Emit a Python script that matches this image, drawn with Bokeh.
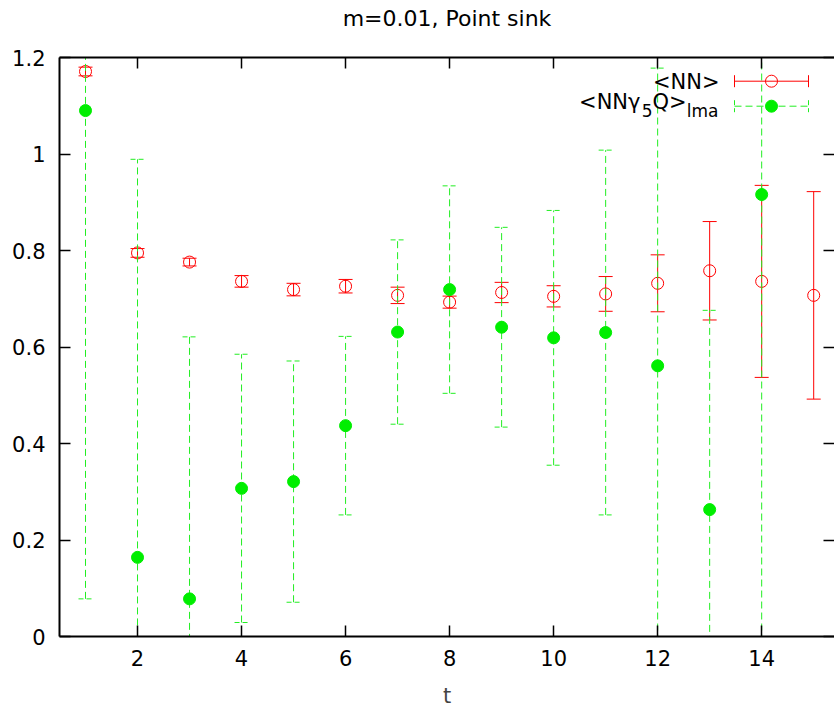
import math
from bokeh.plotting import figure
from bokeh.models import Range1d, FixedTicker, LinearAxis
from bokeh.embed import file_html
from bokeh.resources import INLINE
from bokeh.core.properties import value

# ---------------- data ----------------
title_text = "m=0.01, Point sink"
x_label = "t"

t_nn = [1, 2, 3, 4, 5, 6, 7, 8, 9, 10, 11, 12, 13, 14, 15]
nn_val = [1.171, 0.795, 0.776, 0.736, 0.719, 0.726, 0.707, 0.693, 0.713, 0.705, 0.710, 0.732, 0.758, 0.736, 0.707]
nn_err = [0.009, 0.009, 0.008, 0.012, 0.013, 0.014, 0.017, 0.0125, 0.021, 0.022, 0.036, 0.059, 0.102, 0.199, 0.215]

t_g = [1, 2, 3, 4, 5, 6, 7, 8, 9, 10, 11, 12, 13, 14]
g_val = [1.090, 0.164, 0.078, 0.307, 0.321, 0.437, 0.631, 0.719, 0.641, 0.619, 0.630, 0.561, 0.263, 0.916]
g_err = [1.012, 0.825, 0.543, 0.278, 0.250, 0.185, 0.191, 0.215, 0.207, 0.264, 0.378, 0.617, 0.413, 1.200]

x_ticks = [2, 4, 6, 8, 10, 12, 14]
x_tick_labels = ["2", "4", "6", "8", "10", "12", "14"]
y_ticks = [0, 0.2, 0.4, 0.6, 0.8, 1.0, 1.2]
y_tick_labels = ["0", "0.2", "0.4", "0.6", "0.8", "1", "1.2"]

legend_nn = "<NN>"
legend_g_parts = ["<NNγ", "5", "Q>", "lma"]

# ---------------- style / layout ----------------
FONT = "DejaVu Sans"
RED = "#ff0000"
GREEN_LINE = "#22ee22"
GREEN_DOT = "#00ee00"
DASH = "7 4"
W, H = 834, 710
LEFT, RIGHT, TOP, BOTTOM = 59, 0, 57, 74
X0, X1 = 0.5, 15.4
Y0, Y1 = 0.0, 1.2

p = figure(width=W, height=H, x_range=Range1d(X0, X1), y_range=Range1d(Y0, Y1),
           output_backend="svg", toolbar_location=None,
           min_border_left=LEFT, min_border_right=RIGHT,
           min_border_top=TOP, min_border_bottom=BOTTOM)
p.grid.visible = False
p.outline_line_color = None
p.background_fill_color = "white"
p.border_fill_color = "white"

SX = (X1 - X0) / (W - LEFT - RIGHT)
SY = (Y1 - Y0) / (H - TOP - BOTTOM)


def dx(px):
    return X0 + (px - LEFT) * SX


def dy(py):
    return Y1 - (py - TOP) * SY


def style_axis(ax, ticks, labels, show_labels=True, line=True):
    ax.ticker = FixedTicker(ticks=ticks)
    if show_labels:
        ax.major_label_overrides = {t: l for t, l in zip(ticks, labels)}
        ax.major_label_text_font = FONT
        ax.major_label_text_font_size = "21px"
        ax.major_label_text_color = "black"
    else:
        ax.major_label_overrides = {t: "" for t in ticks}
        ax.major_label_text_font_size = "1px"
        ax.major_label_standoff = 0
    ax.major_tick_in = 11
    ax.major_tick_out = 0
    ax.minor_tick_in = 0
    ax.minor_tick_out = 0
    ax.major_tick_line_color = "black"
    ax.major_tick_line_width = 1.5
    if line:
        ax.axis_line_color = "black"
        ax.axis_line_width = 2
    else:
        ax.axis_line_color = None


style_axis(p.xaxis[0], x_ticks, x_tick_labels)
p.xaxis[0].major_label_standoff = 13
p.xaxis[0].axis_label = x_label
p.xaxis[0].axis_label_text_font = FONT
p.xaxis[0].axis_label_text_font_size = "21px"
p.xaxis[0].axis_label_text_font_style = "normal"
p.xaxis[0].axis_label_standoff = 15

style_axis(p.yaxis[0], y_ticks, y_tick_labels)
p.yaxis[0].major_label_standoff = 14

# top border with inward ticks; the chart title is carried as its label
top_axis = LinearAxis()
style_axis(top_axis, x_ticks, x_tick_labels, show_labels=False)
top_axis.axis_label = title_text
top_axis.axis_label_text_font = FONT
top_axis.axis_label_text_font_size = "22px"
top_axis.axis_label_text_font_style = "normal"
top_axis.axis_label_text_color = "black"
top_axis.axis_label_standoff = 27
p.add_layout(top_axis, "above")

right_axis = LinearAxis()
style_axis(right_axis, y_ticks, y_tick_labels, show_labels=False, line=False)
p.add_layout(right_axis, "right")

# ---------------- <NN> (red) ----------------
nn_lo = [v - e for v, e in zip(nn_val, nn_err)]
nn_hi = [v + e for v, e in zip(nn_val, nn_err)]
p.segment(x0=t_nn, y0=nn_lo, x1=t_nn, y1=nn_hi, line_color=RED, line_width=1)
p.scatter(x=t_nn, y=nn_lo, marker="dash", size=14, line_color=RED, line_width=1)
p.scatter(x=t_nn, y=nn_hi, marker="dash", size=14, line_color=RED, line_width=1)
p.scatter(x=t_nn, y=nn_val, marker="circle", size=12, fill_color=None,
          line_color=RED, line_width=1)

# ---------------- <NNγ5Q>lma (green) ----------------
g_lo = [v - e for v, e in zip(g_val, g_err)]
g_hi = [v + e for v, e in zip(g_val, g_err)]
p.segment(x0=t_g, y0=g_lo, x1=t_g, y1=g_hi, line_color=GREEN_LINE, line_width=1,
          line_dash=DASH)
p.scatter(x=t_g, y=g_lo, marker="dash", size=14, line_color=GREEN_LINE, line_width=1,
          line_dash="5 3")
p.scatter(x=t_g, y=g_hi, marker="dash", size=14, line_color=GREEN_LINE, line_width=1,
          line_dash="5 3")
p.scatter(x=t_g, y=g_val, marker="circle", size=12, fill_color=GREEN_DOT,
          line_color=GREEN_DOT, line_width=1)

# ---------------- legend (drawn inside the frame) ----------------
# red entry
ly1 = dy(80.7)
p.segment(x0=[dx(734)], y0=[ly1], x1=[dx(808)], y1=[ly1], line_color=RED, line_width=1)
p.segment(x0=[dx(734), dx(808)], y0=[dy(74.7)] * 2, x1=[dx(734), dx(808)], y1=[dy(86.7)] * 2,
          line_color=RED, line_width=1)
p.scatter(x=[dx(771)], y=[ly1], marker="circle", size=12, fill_color=None,
          line_color=RED, line_width=1)
p.text(x=[dx(719)], y=[dy(81)], text=[legend_nn], text_font=value(FONT),
       text_font_size="21px", text_align="right", text_baseline="alphabetic",
       text_color="black")

# green entry
ly2 = dy(105.7)
p.segment(x0=[dx(734)], y0=[ly2], x1=[dx(808)], y1=[ly2], line_color=GREEN_LINE,
          line_width=1, line_dash=DASH)
p.segment(x0=[dx(734), dx(808)], y0=[dy(99.7)] * 2, x1=[dx(734), dx(808)], y1=[dy(111.7)] * 2,
          line_color=GREEN_LINE, line_width=1, line_dash="5 3")
p.scatter(x=[dx(771)], y=[ly2], marker="circle", size=12, fill_color=GREEN_DOT,
          line_color=GREEN_DOT, line_width=1)
p.text(x=[dx(640), dx(686)], y=[dy(101)] * 2, text=[legend_g_parts[0], legend_g_parts[2]],
       text_font=value(FONT), text_font_size="21px", text_align="right",
       text_baseline="alphabetic", text_color="black")
p.text(x=[dx(652), dx(718)], y=[dy(110)] * 2, text=[legend_g_parts[1], legend_g_parts[3]],
       text_font=value(FONT), text_font_size="17px", text_align="right",
       text_baseline="alphabetic", text_color="black")

open("out.html", "w").write(file_html(p, INLINE))
